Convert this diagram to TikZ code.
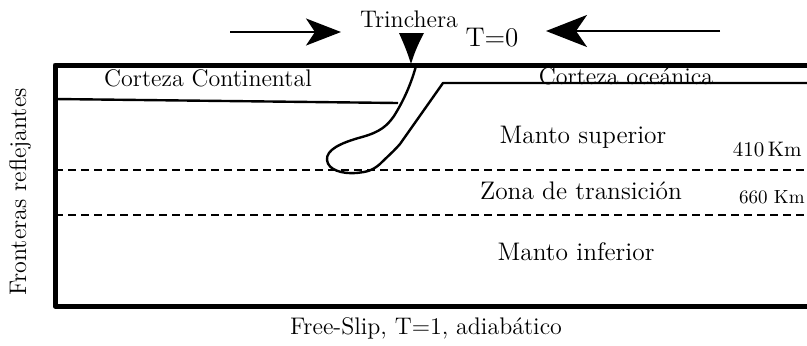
\documentclass[tikz,border=0pt]{standalone}
\usetikzlibrary{arrows.meta}
\begin{document}
\begin{tikzpicture}[x=0.5pt,y=-0.5pt,
  lbl/.style={inner sep=0pt,font=\fontsize{12}{14}\selectfont},
  big/.style={inner sep=0pt,font=\fontsize{12.7}{15}\selectfont},
  small/.style={inner sep=0pt,font=\fontsize{9.5}{11}\selectfont},
  wall/.style={line width=2.5pt,line join=round},
  crust/.style={line width=1.2pt,line join=round},
  interface/.style={line width=0.8pt,dash pattern=on 4pt off 2.5pt},
  pushl/.style={line width=1.2pt,-{Stealth[length=17.5pt,width=13.5pt,inset=4.5pt]}},
  pushr/.style={line width=1.2pt,-{Stealth[length=20.5pt,width=16pt,inset=5.5pt]}}]
\useasboundingbox (0,0) rectangle (807,345);

% model domain (right side runs off the page)
\draw[wall] (830,65) -- (55,65) -- (55,306) -- (830,306);

% phase transitions
\draw[interface] (55,170) -- (807,170);
\draw[interface] (55,215) -- (807,215);

% continental crust base
\draw[crust] (55,99) -- (398,103);

% subducting slab and oceanic crust
\draw[crust] (416,66) .. controls (411,84) and (404,100) .. (394,116)
  .. controls (387,126) and (380,132) .. (362,137)
  .. controls (340,143) and (326,150) .. (327,160)
  .. controls (328,170) and (342,174) .. (356,173)
  .. controls (366,172) and (372,171) .. (380,164)
  .. controls (388,156) and (393,152) .. (400,144)
  -- (443,83) -- (810,83);

% convergence arrows and trench marker
\coordinate (la) at (230,32);
\coordinate (lb) at (341,32);
\coordinate (ra) at (720,31);
\coordinate (rb) at (546,31);
\draw[pushl] (la) -- (lb);
\draw[pushr] (ra) -- (rb);
\coordinate (trench) at (411,64);
\fill (399,33) -- (424,33) .. controls (418,44) and (414,54) .. (trench)
  .. controls (408,54) and (404,44) .. cycle;

% labels
\node[lbl] (trinchera) at (409,19) {Trinchera};
\node[inner sep=0pt,font=\fontsize{13.5}{16}\selectfont] (t0) at (492,38) {T=0};
\node[lbl] (cc) at (208,78) {Corteza Continental};
\node[lbl] (co) at (626,76) {Corteza oceánica};
\node[big] (ms) at (583,137) {Manto superior};
\node[big] (zt) at (581,191) {Zona de transición};
\node[big] (mi) at (576,252) {Manto inferior};
\node[small,anchor=east,font=\fontsize{10.5}{12}\selectfont] (k410) at (802,150) {410\,Km};
\node[small,anchor=east] (k660) at (805,197) {660 Km};
\node[lbl,rotate=90] (fr) at (20,192) {Fronteras reflejantes};
\node[lbl] (fs) at (426,328) {Free-Slip, T=1, adiabático};
\end{tikzpicture}
\end{document}
